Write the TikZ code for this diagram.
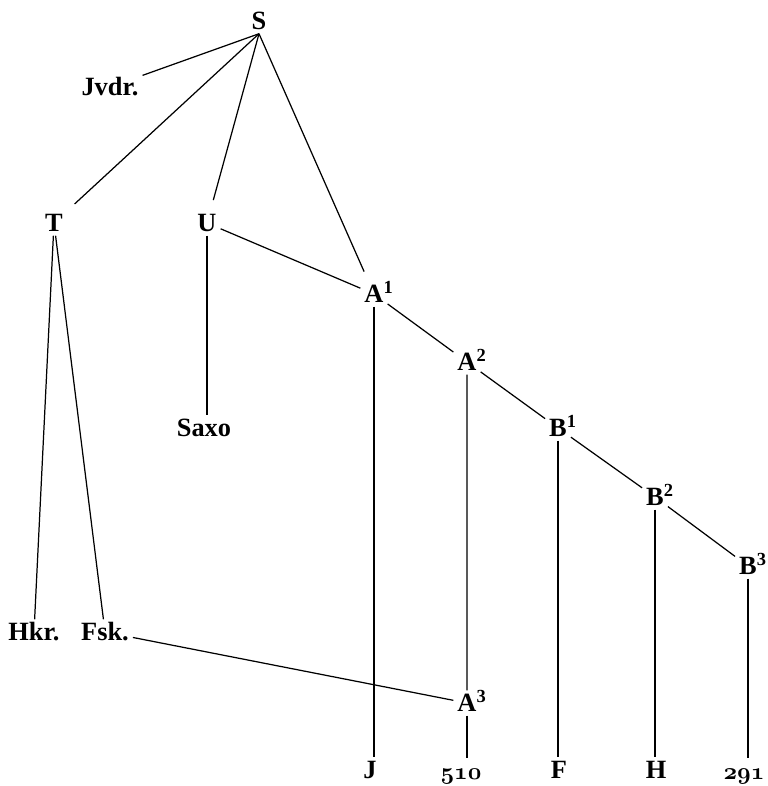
\documentclass[tikz,border=0pt]{standalone}
\usepackage{fontspec}
\setmainfont{Liberation Serif}
\font\osnum=cmmib10 at 13.5pt

\begin{document}
\begin{tikzpicture}[x=0.02cm, y=-0.02cm, line width=0.7pt,
		every node/.style={font=\fontsize{15}{18}\selectfont\bfseries, inner sep=2pt, text height=9.8pt, text depth=0pt},
		fromS/.style={shorten >=6pt}]
			\useasboundingbox (0,0) rectangle (767,786);
			%\draw[dotted] (0,0) grid[step=50] (767,786);
			\node (S) at (259,21) {S};
			\node (Jvdr) at (110,87) {Jvdr.};
			\node (T) at (54,223) {T};
			\node (U) at (207,223) {U};
			\node (A1) at (374,294) {A\rlap{\textsuperscript{1}}};
			\node (A2) at (467,362) {A\rlap{\textsuperscript{2}}};
			\node (B1) at (558,428) {B\rlap{\textsuperscript{1}}};
			\node (B2) at (655,497) {B\rlap{\textsuperscript{2}}};
			\node (B3) at (748,566) {B\rlap{\textsuperscript{3}}};
			\node (Saxo) at (204,428) {Saxo};
			\node (Hkr) at (34,632) {Hkr.};
			\node (Fsk) at (105,632) {Fsk.};
			\node (A3) at (467,703) {A\rlap{\textsuperscript{3}}};
			\node (J) at (370,770) {J};
			\node (n510) at (461,771) {\osnum 510};
			\node (F) at (559,770) {F};
			\node (H) at (656,770) {H};
			\node (n291) at (744,771) {\osnum 291};
			% from the top
			\draw (S.south) -- (Jvdr);
			\draw[fromS] (S.south) -- (T);
			\draw[fromS] (S.south) -- (U);
			\draw[fromS] (S.south) -- (A1);
			\draw (T) -- (Hkr) (T) -- (Fsk);
			\draw (U) -- (U |- Saxo.north);
			\draw (U) -- (A1) -- (A2) -- (B1) -- (B2) -- (B3);
			\draw (Fsk) -- (A3) (A2) -- (A3);
			% down to the texts
			\draw (A1) -- (A1 |- J.north);
			\draw (A3) -- (A3 |- n510.north);
			\draw (B1) -- (B1 |- F.north);
			\draw (B2) -- (B2 |- H.north);
			\draw (B3) -- (B3 |- n291.north);
\end{tikzpicture}
\end{document}
